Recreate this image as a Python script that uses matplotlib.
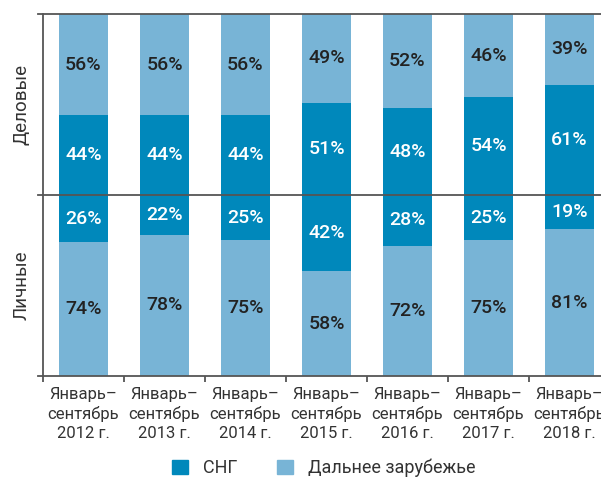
import matplotlib
matplotlib.use("Agg")
import matplotlib.pyplot as plt
from matplotlib.patches import Patch

categories = ["Январь–\nсентябрь\n2012 г.", "Январь–\nсентябрь\n2013 г.", "Январь–\nсентябрь\n2014 г.",
              "Январь–\nсентябрь\n2015 г.", "Январь–\nсентябрь\n2016 г.", "Январь–\nсентябрь\n2017 г.",
              "Январь–\nсентябрь\n2018 г."]
business_cis = [44, 44, 44, 51, 48, 54, 61]
business_far = [56, 56, 56, 49, 52, 46, 39]
personal_cis = [26, 22, 25, 42, 28, 25, 19]
personal_far = [74, 78, 75, 58, 72, 75, 81]
series_names = ["СНГ", "Дальнее зарубежье"]
panel_names = ["Деловые", "Личные"]

DARK = "#0088bb"
LIGHT = "#78b4d6"
LINE = "#555555"
TXT = "#222222"
plt.rcParams['font.family'] = ['Roboto', 'DejaVu Sans']

W, H = 601, 478
fig = plt.figure(figsize=(W/100, H/100), dpi=100)
left, right, top, bottom = 43, 610, 14, 376
ax = fig.add_axes([left/W, 1 - bottom/H, (right-left)/W, (bottom-top)/H])

n = len(categories)
x = list(range(n))
bw = 49/81
ax.bar(x, business_cis, width=bw, bottom=0, color=DARK, zorder=2)
ax.bar(x, business_far, width=bw, bottom=business_cis, color=LIGHT, zorder=2)
ax.bar(x, [-v for v in personal_cis], width=bw, bottom=0, color=DARK, zorder=2)
ax.bar(x, [-v for v in personal_far], width=bw, bottom=[-v for v in personal_cis], color=LIGHT, zorder=2)

fs = 14
for i in range(n):
    ax.text(i, business_cis[i]/2, f"{business_cis[i]}%", ha='center', va='center', color='white',
            fontsize=fs, fontweight='medium', zorder=3)
    ax.text(i, business_cis[i] + business_far[i]/2, f"{business_far[i]}%", ha='center', va='center',
            color=TXT, fontsize=fs, fontweight='medium', zorder=3)
    ax.text(i, -personal_cis[i]/2, f"{personal_cis[i]}%", ha='center', va='center', color='white',
            fontsize=fs, fontweight='medium', zorder=3)
    ax.text(i, -personal_cis[i] - personal_far[i]/2, f"{personal_far[i]}%", ha='center', va='center',
            color=TXT, fontsize=fs, fontweight='medium', zorder=3)

ax.set_xlim(-0.5, n - 0.5)
ax.set_ylim(-100, 100)
for s in ['top', 'right']:
    ax.spines[s].set_visible(False)
for s in ['left', 'bottom']:
    ax.spines[s].set_color(LINE)
    ax.spines[s].set_linewidth(1.3)
xmin_ext = -5/(right-left)
ax.axhline(0, xmin=xmin_ext, xmax=1, color=LINE, lw=1.3, clip_on=False, zorder=4)
ax.axhline(100, xmin=xmin_ext, xmax=1, color=LINE, lw=1.3, clip_on=False, zorder=4)
ax.plot([-0.5 - 5/81, -0.5], [-100, -100], color=LINE, lw=1.3, clip_on=False)
ax.set_yticks([])
ax.set_xticks([i - 0.5 for i in range(n + 1)])
ax.set_xticklabels([])
ax.set_xticks(x, minor=True)
ax.set_xticklabels(categories, minor=True, fontsize=12, color='#333333', linespacing=1.3)
ax.tick_params(axis='x', which='major', length=4, width=1.3, color=LINE, direction='out')
ax.tick_params(axis='x', which='minor', length=0, pad=8)

ax.text(-0.5 - 21/81, 50, panel_names[0], rotation=90, ha='center', va='center', fontsize=13.5, color='#333333')
ax.text(-0.5 - 21/81, -50, panel_names[1], rotation=90, ha='center', va='center', fontsize=13.5, color='#333333')

handles = [Patch(color=DARK, label=series_names[0]), Patch(color=LIGHT, label=series_names[1])]
leg = fig.legend(handles=handles, loc='center', bbox_to_anchor=(324/W, 1 - 468/H), ncol=2, frameon=False,
                 fontsize=13, handlelength=0.89, handleheight=0.89, columnspacing=2.2, handletextpad=0.83,
                 borderpad=0, borderaxespad=0)
for t in leg.get_texts():
    t.set_color('#333333')

fig.savefig("out.png", dpi=100)
